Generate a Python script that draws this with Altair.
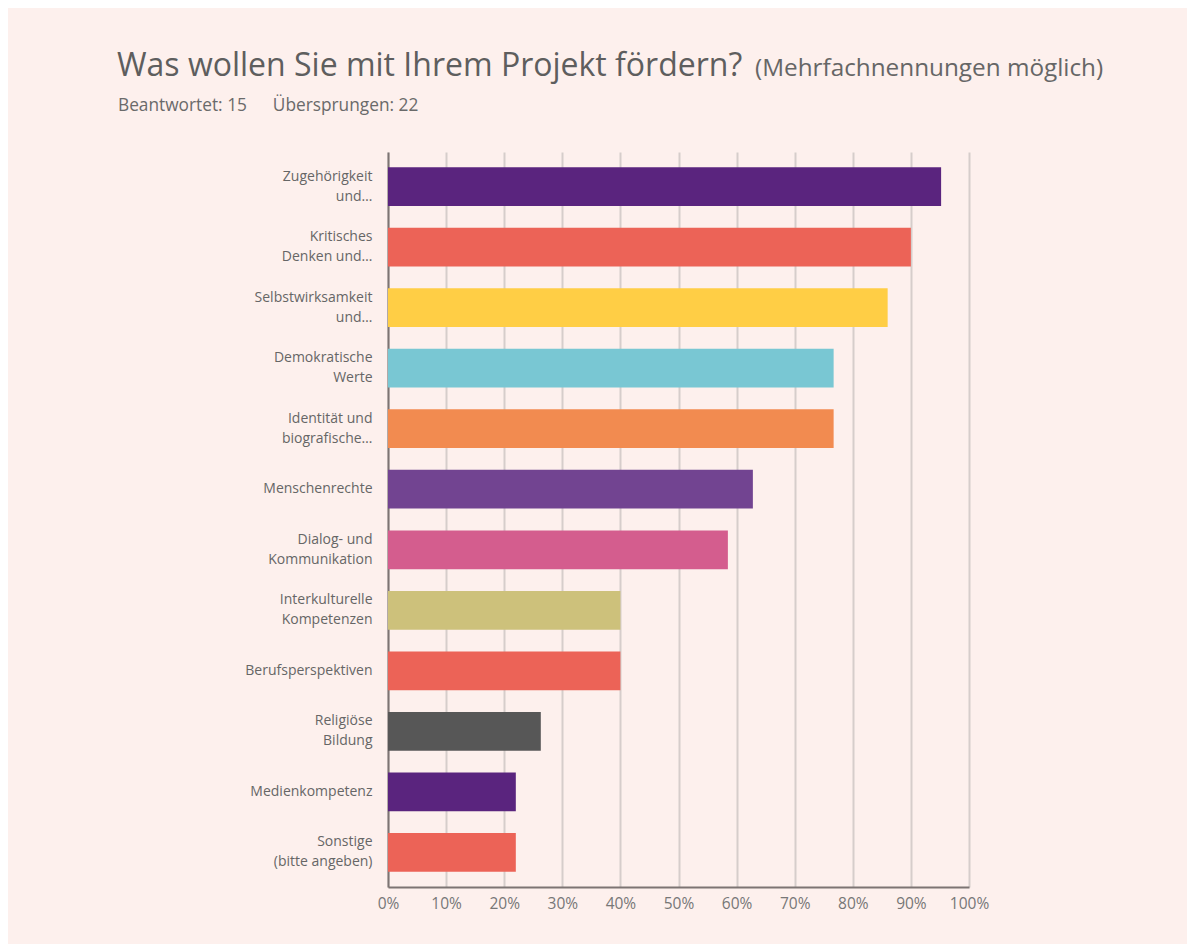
import altair as alt
import pandas as pd

categories = [
    "Zugehörigkeit\nund…",
    "Kritisches\nDenken und…",
    "Selbstwirksamkeit\nund…",
    "Demokratische\nWerte",
    "Identität und\nbiografische…",
    "Menschenrechte",
    "Dialog- und\nKommunikation",
    "Interkulturelle\nKompetenzen",
    "Berufsperspektiven",
    "Religiöse\nBildung",
    "Medienkompetenz",
    "Sonstige\n(bitte angeben)",
]
values = [95.2, 90.0, 86.0, 76.7, 76.7, 62.8, 58.5, 40.0, 40.0, 26.3, 22.0, 22.0]
bar_colors = [
    "#5a247e", "#ec6357", "#ffce45", "#79c7d3", "#f28b50", "#724491",
    "#d45d8e", "#cdc17b", "#ec6357", "#575757", "#5a247e", "#ec6357",
]
x_ticks = [0, 10, 20, 30, 40, 50, 60, 70, 80, 90, 100]

title_text = "Was wollen Sie mit Ihrem Projekt fördern?"
title_note = "(Mehrfachnennungen möglich)"
subtitle_text = "Beantwortet: 15\u2002\u2002\u2002Übersprungen: 22"

df = pd.DataFrame({"cat": categories, "value": values})

FONT = "Open Sans"
BG = "#fdf0ed"

bars = alt.Chart(df).mark_bar().encode(
    y=alt.Y(
        "cat:N",
        sort=categories,
        scale=alt.Scale(paddingInner=0.36, paddingOuter=0.25),
        axis=alt.Axis(
            title=None,
            labelExpr="split(datum.label, '\\n')",
            labelFont=FONT,
            labelFontSize=14,
            labelColor="#666666",
            labelLineHeight=20,
            labelPadding=16,
            labelLimit=300,
            labelOffset={
                "condition": {"test": "indexof(datum.label, '\\n') >= 0", "value": -10},
                "value": 0,
            },
            ticks=False,
            domainColor="#7d7473",
            domainWidth=2,
            grid=False,
        ),
    ),
    x=alt.X(
        "value:Q",
        scale=alt.Scale(domain=[0, 100], nice=False),
        axis=alt.Axis(
            title=None,
            values=x_ticks,
            labelExpr="datum.value + '%'",
            labelFont=FONT,
            labelFontSize=15.5,
            labelColor="#777777",
            labelPadding=9,
            labelFlush=False,
            labelOverlap=False,
            ticks=False,
            domainColor="#7d7473",
            domainWidth=2,
            grid=True,
            gridColor="#d6cdcb",
            gridWidth=2,
        ),
    ),
    color=alt.Color(
        "cat:N",
        scale=alt.Scale(domain=categories, range=bar_colors),
        legend=None,
    ),
)


def text_layer(txt, x, y, size, color):
    return alt.Chart(pd.DataFrame({"t": [txt]})).mark_text(
        align="left", baseline="alphabetic", font=FONT, fontSize=size, color=color
    ).encode(text="t:N", x=alt.value(x), y=alt.value(y))


title_layer = text_layer(title_text, -271, -76, 32, "#5e5e5e")
note_layer = text_layer(title_note, 367, -76, 24.3, "#666666")
sub_layer = text_layer(subtitle_text, -270, -41, 17.3, "#6a6a6a")

chart = alt.layer(bars, title_layer, note_layer, sub_layer).properties(
    width=581,
    height=735,
    background=BG,
    autosize=alt.AutoSizeParams(type="none"),
    padding={"left": 380, "top": 144, "right": 218, "bottom": 57},
).configure_view(stroke=None)

chart.save("out.html", embed_options={"renderer": "svg", "actions": False})
